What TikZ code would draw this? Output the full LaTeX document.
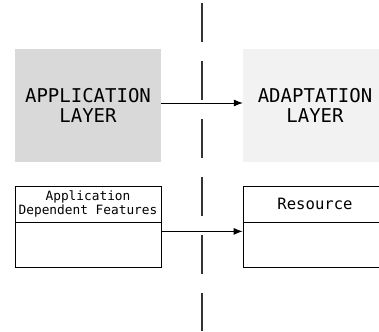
\documentclass[tikz,border=0pt]{standalone}
\usepackage{fontspec}
\setmonofont{DejaVu Sans Mono}
\usepackage{tikz}
\usetikzlibrary{arrows.meta,positioning}
\definecolor{layergray}{HTML}{D9D9D9}
\definecolor{layerlight}{HTML}{F2F2F2}
\definecolor{sepgray}{HTML}{333333}

\begin{document}
\begin{tikzpicture}[
      x=1pt,y=1pt,
      layer/.style={minimum width=146pt,minimum height=113pt,align=center,inner sep=0pt,
        font=\ttfamily\fontsize{19}{20}\selectfont},
      head/.style={draw,line width=0.8pt,minimum width=146pt,minimum height=36pt,align=center,inner sep=0pt},
      body/.style={draw,line width=0.8pt,minimum width=146pt,minimum height=45pt,inner sep=0pt},
      arr/.style={-{Latex[length=9pt,width=7pt]},line width=0.8pt},
      sep/.style={line width=2pt,sepgray,dash pattern=on 39pt off 19pt}
    ]
    \useasboundingbox (0,0) rectangle (379,331);
    \clip (0,0) rectangle (379,331);

    % upper layers
    \node[layer,fill=layergray] (applayer) at (88,225.5) {APPLICATION\\LAYER};
    \node[layer,fill=layerlight,minimum width=144pt] (adaptlayer) at (315,225.5) {ADAPTATION\\LAYER};

    % lower boxes
    \node[head,font=\ttfamily\fontsize{12.8}{13.5}\selectfont] (adfhead) at (88,127) {Application\\Dependent Features};
    \node[body,below=0pt of adfhead] (adfbody) {};
    \node[head,minimum width=144pt,font=\ttfamily\fontsize{15.6}{17}\selectfont] (reshead) at (315,127) {Resource};
    \node[body,minimum width=144pt,below=0pt of reshead] (resbody) {};

    % separator
    \coordinate (septop) at (202,328);
    \coordinate (sepbot) at (202,0);
    \draw[sep] (septop) -- (sepbot);

    \draw[arr] ([yshift=2.5pt]applayer.east) -- ([yshift=2.5pt]adaptlayer.west);
    \draw[arr] ([yshift=-9pt]adfbody.north east) -- ([yshift=-9pt]resbody.north west);
  \end{tikzpicture}
\end{document}
